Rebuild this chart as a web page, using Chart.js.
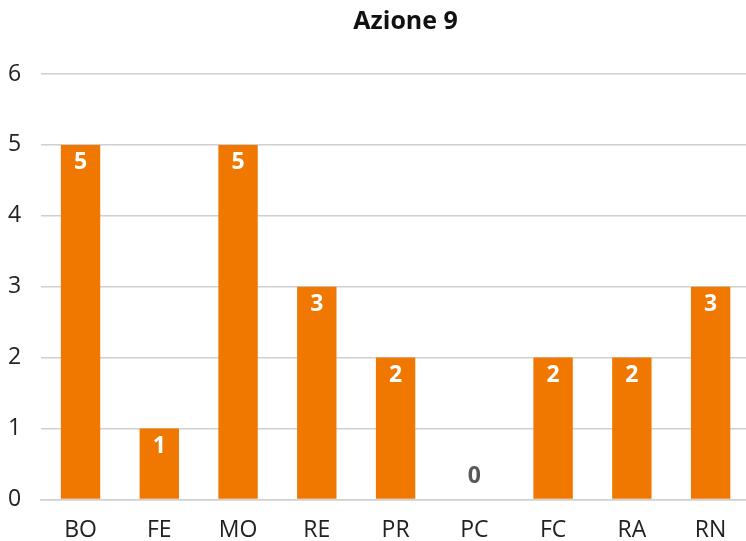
<!DOCTYPE html>
<html>
<head>
<meta charset="utf-8">
<script src="https://cdn.jsdelivr.net/npm/chart.js@4"></script>
<style>
  html, body { margin: 0; padding: 0; background: #fff; overflow: hidden; }
  #wrap { width: 770px; height: 553px; margin-left: -20px; }
</style>
</head>
<body>
<div id="wrap"><canvas id="chart" width="770" height="553"></canvas></div>
<script>
const categories = ["BO", "FE", "MO", "RE", "PR", "PC", "FC", "RA", "RN"];
const values = [5, 1, 5, 3, 2, 0, 2, 2, 3];
const yTicks = [0, 1, 2, 3, 4, 5, 6];
const titleText = "Azione 9";

// draws the numbers on the bars (white inside, grey when the bar is empty)
const valueLabels = {
  id: "valueLabels",
  afterDatasetsDraw(chart) {
    const ctx = chart.ctx;
    const meta = chart.getDatasetMeta(0);
    ctx.save();
    ctx.font = "bold 23px 'Open Sans'";
    ctx.textAlign = "center";
    ctx.textBaseline = "middle";
    meta.data.forEach((bar, i) => {
      const v = values[i];
      if (v === 0) {
        ctx.fillStyle = "#595959";
        ctx.fillText(String(v), bar.x, bar.y - 23);
      } else {
        ctx.fillStyle = "#ffffff";
        ctx.fillText(String(v), bar.x, bar.y + 18);
      }
    });
    ctx.restore();
  }
};

// title is centred over the plot area, a bit right of the canvas middle
const titleDraw = {
  id: "titleDraw",
  afterDraw(chart) {
    const ctx = chart.ctx;
    const a = chart.chartArea;
    ctx.save();
    ctx.font = "bold 25px 'Open Sans'";
    ctx.fillStyle = "#111";
    ctx.textAlign = "center";
    ctx.textBaseline = "middle";
    ctx.fillText(titleText, (a.left + a.right) / 2 + 10, 22);
    ctx.restore();
  }
};

new Chart(document.getElementById("chart"), {
  type: "bar",
  data: {
    labels: categories,
    datasets: [{
      data: values,
      backgroundColor: "#F07800",
      barPercentage: 0.5,
      categoryPercentage: 1
    }]
  },
  options: {
    responsive: false,
    animation: false,
    layout: { padding: { top: 74, left: 8, right: 0, bottom: 0 } },
    scales: {
      x: {
        grid: { display: false },
        border: { color: "#d0d0d0", width: 1.5 },
        ticks: { color: "#222", font: { family: "'Open Sans'", size: 23 }, padding: 9 }
      },
      y: {
        min: 0,
        max: 6,
        afterBuildTicks: axis => { axis.ticks = yTicks.map(v => ({ value: v })); },
        border: { display: false },
        grid: { color: "#d0d0d0", lineWidth: 1.5, drawTicks: false },
        ticks: { color: "#222", font: { family: "'Open Sans'", size: 23 }, padding: 20 }
      }
    },
    plugins: {
      legend: { display: false },
      tooltip: { enabled: false },
      title: { display: false }
    }
  },
  plugins: [valueLabels, titleDraw]
});
</script>
</body>
</html>
